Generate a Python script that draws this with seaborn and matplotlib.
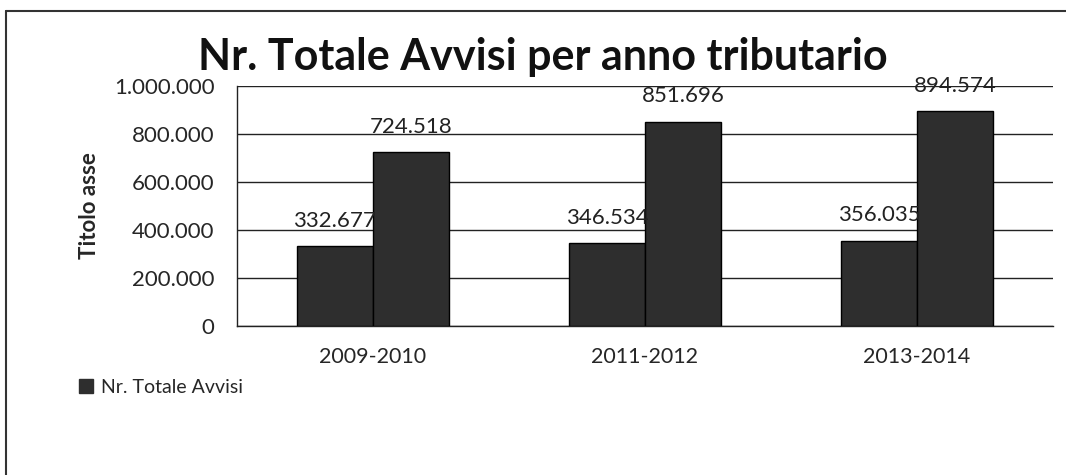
import seaborn as sns
import matplotlib.pyplot as plt
import pandas as pd
from matplotlib.lines import Line2D
from matplotlib.patches import Patch

# dati
anni = ["2009-2010", "2011-2012", "2013-2014"]
avvisi_a = [332677, 346534, 356035]
avvisi_b = [724518, 851696, 894574]
yticks = [0, 200000, 400000, 600000, 800000, 1000000]

df = pd.DataFrame({
    "anno": anni * 2,
    "serie": ["a"] * 3 + ["b"] * 3,
    "valore": avvisi_a + avvisi_b,
})

def fmt(v):
    return f"{int(round(v)):,}".replace(",", ".")

sns.set_style("white")
plt.rcParams["font.family"] = ["Lato", "DejaVu Sans"]

fig = plt.figure(figsize=(10.66, 4.75), dpi=100)
ax = fig.add_axes([0.2223, 0.3137, 0.7655, 0.5053])

sns.barplot(data=df, x="anno", y="valore", hue="serie", hue_order=["a", "b"],
            palette=["#2e2e2e", "#2e2e2e"], width=0.56, gap=0,
            edgecolor="black", linewidth=1, ax=ax, legend=False, zorder=3)

for cont in ax.containers:
    ax.bar_label(cont, labels=[fmt(v) for v in cont.datavalues],
                 padding=11, fontsize=16, color="#222222")

ax.set_ylim(0, 1000000)
ax.set_xlim(-0.5, 2.5)
ax.set_yticks(yticks)
ax.set_yticklabels([fmt(v) for v in yticks], fontsize=16)
ax.tick_params(axis="y", length=0, pad=16)
ax.tick_params(axis="x", length=0, pad=15, labelsize=15.5)
ax.yaxis.grid(True, color="#222222", linewidth=1)
ax.set_axisbelow(True)
for s in ["top", "right"]:
    ax.spines[s].set_visible(False)
for s in ["left", "bottom"]:
    ax.spines[s].set_color("#222222")
    ax.spines[s].set_linewidth(1)
ax.set_xlabel("")
ax.set_ylabel("Titolo asse", fontsize=16, fontweight="bold", labelpad=10)

fig.text(0.509, 0.88, "Nr. Totale Avvisi per anno tributario", ha="center", va="center",
         fontsize=31, fontweight="bold", color="#111111")

fig.legend(handles=[Patch(facecolor="#2e2e2e", edgecolor="#2e2e2e", label="Nr. Totale Avvisi")],
           loc="center left", bbox_to_anchor=(0.058, 0.185), frameon=False,
           fontsize=14, handlelength=0.7, handleheight=0.7, handletextpad=0.4)

# cornice del grafico (scansione)
fig.add_artist(Line2D([6 / 1066, 6 / 1066], [0, 1 - 11 / 475], color="#333333", lw=1.5))
fig.add_artist(Line2D([6 / 1066, 1], [1 - 11 / 475, 1 - 11 / 475], color="#333333", lw=1.5))

fig.savefig("out.png", dpi=100)
